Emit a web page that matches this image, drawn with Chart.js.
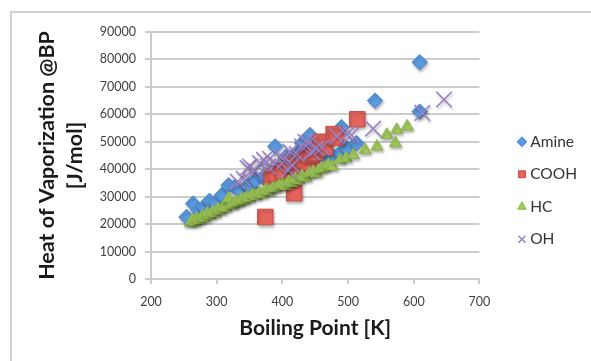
<!DOCTYPE html>
<html lang="en">
<head>
<meta charset="UTF-8">
<title>Heat of Vaporization vs Boiling Point</title>
<script src="https://cdn.jsdelivr.net/npm/chart.js"></script>
<style>
  html, body { margin: 0; padding: 0; background: #fff; overflow: hidden; }
  #frame {
    position: absolute; left: 10px; top: 11px; width: 640px; height: 400px;
    border-left: 2px solid #d2d2d2; border-top: 2px solid #d2d2d2;
  }
  #chartCanvas { position: absolute; left: 0; top: 0; }
</style>
</head>
<body>
<div id="frame"></div>
<canvas id="chartCanvas" width="591" height="361"></canvas>
<script>
// boiling point [K] / heat of vaporization at BP [J/mol] per compound family
const amineBp = [254, 264, 272, 280, 289, 298, 308, 318, 328, 333, 348, 351, 359, 371, 378, 389, 397, 405, 412, 422, 430, 442, 446, 455, 467, 475, 488, 490, 498, 513, 541, 609, 609];
const amineHv = [22600, 27500, 25100, 26200, 28500, 27800, 30600, 34200, 33600, 32400, 34200, 33600, 36100, 37300, 36000, 48300, 39700, 44500, 42500, 45900, 49500, 52500, 48500, 47000, 44500, 45200, 45900, 55300, 47700, 49500, 65000, 79000, 61000];

const coohBp = [374, 384, 390, 400, 412, 418, 425, 430, 440, 445, 450, 458, 465, 478, 482, 514];
const coohHv = [22600, 36500, 38500, 39500, 42000, 31300, 41000, 43500, 42500, 45000, 46000, 50000, 48000, 52800, 51500, 58200];

const hcBp = [260, 263, 267, 270, 274, 278, 282, 286, 290, 294, 298, 302, 306, 310, 314, 318, 322, 326, 330, 334, 338, 342, 346, 350, 355, 360, 365, 370, 375, 380, 385, 390, 395, 400, 405, 410, 415, 420, 425, 430, 436, 441, 447, 452, 458, 464, 470, 476, 488, 497, 508, 526, 544, 559, 572, 574, 590];
const hcHv = [20500, 21500, 20800, 22000, 21500, 22800, 22300, 24000, 23200, 24500, 24000, 25500, 25000, 26300, 26000, 29300, 27000, 27200, 28200, 28000, 29000, 28700, 30000, 29500, 30800, 30300, 31500, 31000, 32400, 32000, 33000, 33200, 34000, 34500, 34000, 35500, 35000, 36500, 36000, 37500, 37000, 38500, 39100, 38500, 40000, 40500, 41600, 41000, 43400, 44000, 45200, 47000, 48300, 52600, 49500, 54400, 55600];

const ohBp = [332, 341, 347, 351, 358, 366, 372, 378, 381, 390, 397, 403, 409, 412, 415, 422, 430, 435, 440, 445, 452, 460, 483, 498, 505, 538, 613, 646];
const ohHv = [35500, 36500, 40500, 41000, 39500, 42200, 43400, 41000, 43800, 42000, 44600, 43000, 39700, 46400, 41500, 45500, 48300, 50000, 49500, 46400, 47500, 48000, 52000, 52600, 52500, 54800, 60500, 65400];

const xTickValues = [200, 300, 400, 500, 600, 700];
const yTickValues = [0, 10000, 20000, 30000, 40000, 50000, 60000, 70000, 80000, 90000];

function pairUp(xs, ys) {
  return xs.map((x, i) => ({ x: x, y: ys[i] }));
}

// soft drop shadow under the markers
const markerShadow = {
  id: "markerShadow",
  beforeDatasetsDraw(chart) {
    const ctx = chart.ctx;
    ctx.save();
    ctx.shadowColor = "rgba(0, 0, 0, 0.3)";
    ctx.shadowBlur = 3;
    ctx.shadowOffsetX = 1;
    ctx.shadowOffsetY = 2;
  },
  afterDatasetsDraw(chart) {
    chart.ctx.restore();
  }
};

// push the legend a little away from the plot
const legendOffset = {
  id: "legendOffset",
  afterLayout(chart) {
    const lg = chart.legend;
    lg.left += 25; lg.right += 25;
    lg.top += 3; lg.bottom += 3;
  }
};

const tickFont = { family: "Lato", size: 12.5 };

const ctx = document.getElementById("chartCanvas").getContext("2d");
new Chart(ctx, {
  type: "scatter",
  data: {
    datasets: [
      {
        label: "Amine", data: pairUp(amineBp, amineHv), order: 4,
        pointStyle: "rectRot", pointRadius: 7.7,
        backgroundColor: "#5a9ae0", borderColor: "#4a86c8", borderWidth: 1
      },
      {
        label: "COOH", data: pairUp(coohBp, coohHv), order: 3,
        pointStyle: "rect", pointRadius: 11,
        backgroundColor: "#e5635d", borderColor: "#c9504b", borderWidth: 1
      },
      {
        label: "HC", data: pairUp(hcBp, hcHv), order: 2,
        pointStyle: "triangle", pointRadius: 7,
        backgroundColor: "#a2cb5c", borderColor: "#8db64a", borderWidth: 1
      },
      {
        label: "OH", data: pairUp(ohBp, ohHv), order: 1,
        pointStyle: "crossRot", pointRadius: 11,
        backgroundColor: "#9a82c6", borderColor: "#9a82c6", borderWidth: 1.6
      }
    ]
  },
  options: {
    responsive: false,
    animation: false,
    devicePixelRatio: 1,
    layout: { padding: { left: 12, right: 29, top: 32, bottom: 18 } },
    plugins: {
      tooltip: { enabled: false },
      legend: {
        position: "right",
        labels: {
          usePointStyle: true,
          boxWidth: 1,
          boxHeight: 7,
          padding: 17,
          color: "#333333",
          font: { family: "Lato", size: 15.5 },
          sort: (a, b) => a.datasetIndex - b.datasetIndex
        }
      }
    },
    scales: {
      x: {
        type: "linear",
        min: xTickValues[0],
        max: xTickValues[xTickValues.length - 1],
        afterBuildTicks: (scale) => { scale.ticks = xTickValues.map(v => ({ value: v })); },
        afterFit: (scale) => { scale.height = 64; },
        ticks: { color: "#404040", font: tickFont, padding: 10, callback: v => String(v) },
        grid: { drawOnChartArea: false, tickLength: 5, color: "#cccccc", lineWidth: 2 },
        border: { color: "#cccccc", width: 2 },
        title: {
          display: true, text: "Boiling Point [K]", color: "#1a1a1a",
          font: { family: "Lato", size: 21, weight: "bold" }, padding: { top: 0, bottom: 2 }
        }
      },
      y: {
        min: yTickValues[0],
        max: yTickValues[yTickValues.length - 1],
        afterBuildTicks: (scale) => { scale.ticks = yTickValues.map(v => ({ value: v })); },
        afterFit: (scale) => { scale.width = 139; },
        ticks: { color: "#404040", font: tickFont, padding: 9, callback: v => String(v) },
        grid: { color: "#cccccc", lineWidth: 2, tickLength: 6 },
        border: { color: "#cccccc", width: 2 },
        title: {
          display: true, text: ["Heat of Vaporization @BP", "[J/mol]"], color: "#1a1a1a",
          font: { family: "Lato", size: 21.5, weight: "bold", lineHeight: 1.3 },
          padding: { top: 21, bottom: 0 }
        }
      }
    }
  },
  plugins: [markerShadow, legendOffset]
});
</script>
</body>
</html>
